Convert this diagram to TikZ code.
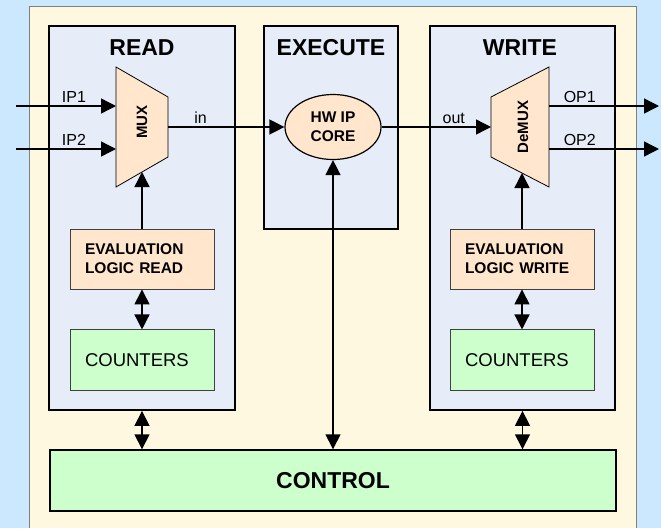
\documentclass[tikz,border=0pt]{standalone}
\usepackage{fontspec}
\setmainfont{Liberation Sans}
\usetikzlibrary{shapes.geometric, arrows.meta, positioning}
\definecolor{bgblue}{RGB}{204,232,255}
\definecolor{cream}{RGB}{255,248,225}
\definecolor{stagefill}{RGB}{230,237,248}
\definecolor{peach}{RGB}{255,230,204}
\definecolor{lightgreen}{RGB}{204,255,204}
\tikzstyle{stage} = [rectangle, draw=black, line width=1.8pt, fill=stagefill, inner sep=0pt]
\tikzstyle{title} = [font=\fontsize{23}{27}\selectfont\bfseries, inner sep=0pt]
\tikzstyle{evalbox} = [rectangle, draw=black!75, line width=0.9pt, fill=peach, minimum height=60pt, text width=114pt, inner xsep=15pt, inner ysep=0pt, align=left, font=\fontsize{15.5}{19}\selectfont\bfseries]
\tikzstyle{counterbox} = [rectangle, draw=black!75, line width=0.9pt, fill=lightgreen, minimum height=61pt, text width=114pt, inner xsep=15pt, inner ysep=0pt, align=left, font=\fontsize{18.5}{22}\selectfont]
\tikzstyle{muxshape} = [draw=black, line width=0.8pt, fill=peach]
\tikzstyle{muxlabel} = [rotate=90, inner sep=0pt, font=\fontsize{15}{18}\selectfont\bfseries]
\tikzstyle{core} = [ellipse, draw=black, line width=1.2pt, fill=peach, minimum width=96pt, minimum height=65pt, inner sep=0pt, align=center, font=\fontsize{15.5}{19}\selectfont\bfseries]
\tikzstyle{control} = [rectangle, draw=black, line width=1.4pt, fill=lightgreen, minimum width=566pt, minimum height=61pt, font=\fontsize{23}{27}\selectfont\bfseries]
\tikzstyle{sig} = [font=\fontsize{16}{19}\selectfont, inner sep=3pt]
\tikzstyle{arrow} = [line width=1.4pt, -{Triangle[length=15pt, width=15pt]}]
\tikzstyle{dblarrow} = [line width=1.4pt, {Triangle[length=15pt, width=15pt]}-{Triangle[length=15pt, width=15pt]}]

\begin{document}
\begin{tikzpicture}[x=1pt, y=-1pt]
      \useasboundingbox (0,0) rectangle (661,528);
      \fill [bgblue] (0,0) rectangle (661,528);
      \fill [cream] (29,6) rectangle (636,528);
      \draw [black!50, line width=0.8pt] (29,528) -- (29,6) -- (636,6) -- (636,528);

      \node (read)       [stage, minimum width=186pt, minimum height=384pt] at (142,218)   {};
      \node (execute)    [stage, minimum width=134pt, minimum height=203pt] at (331,127.5) {};
      \node (write)      [stage, minimum width=185pt, minimum height=384pt] at (522.5,218) {};

      \node (readtitle)  [title] at (142,48) {READ};
      \node (exectitle)  [title] at (331,48) {EXECUTE};
      \node (writetitle) [title] at (520,48) {WRITE};

      % multiplexer and demultiplexer
      \draw [muxshape] (116,67) -- (168,97) -- (168,157) -- (116,187) -- cycle;
      \node (mux)        [muxlabel] at (142,122) {MUX};
      \coordinate (muxin)    at (116,127);
      \coordinate (muxout)   at (168,127);
      \coordinate (muxsel)   at (142,172);

      \draw [muxshape] (491,97) -- (549,67) -- (549,187) -- (491,157) -- cycle;
      \node (demux)      [muxlabel] at (523,127) {DeMUX};
      \coordinate (demuxin)  at (491,127);
      \coordinate (demuxout) at (549,127);
      \coordinate (demuxsel) at (522,173);

      \node (hw)         [core] at (333,127) {HW IP\\CORE};

      \node (evalread)   [evalbox] at (142,259) {EVALUATION\\LOGIC READ};
      \node (cntread)    [counterbox, below=40pt of evalread] {COUNTERS};
      \node (evalwrite)  [evalbox] at (522,259) {EVALUATION\\LOGIC WRITE};
      \node (cntwrite)   [counterbox, below=40pt of evalwrite] {COUNTERS};

      \node (control)    [control] at (333,480.5) {CONTROL};

      \coordinate (ip1) at (16,106);
      \coordinate (ip2) at (16,149);
      \coordinate (op1) at (659,106);
      \coordinate (op2) at (659,149);

      \draw [arrow] (ip1) -- node[sig, pos=0.58, above] {IP1} (ip1 -| muxin);
      \draw [arrow] (ip2) -- node[sig, pos=0.58, above] {IP2} (ip2 -| muxin);
      \draw [arrow] (muxout) -- node[sig, pos=0.28, above] {in} (hw.west);
      \draw [arrow] (hw.east) -- node[sig, pos=0.66, above] {out} (demuxin);
      \draw [arrow] (op1 -| demuxout) -- node[sig, pos=0.28, above] {OP1} (op1);
      \draw [arrow] (op2 -| demuxout) -- node[sig, pos=0.28, above] {OP2} (op2);

      \draw [arrow] (evalread.north) -- (muxsel);
      \draw [arrow] (evalwrite.north) -- (demuxsel);

      \draw [dblarrow] (evalread) -- (cntread);
      \draw [dblarrow] (evalwrite) -- (cntwrite);
      \draw [dblarrow] (read.south) -- (read.south |- control.north);
      \draw [dblarrow] (write.south) -- (write.south |- control.north);
      \draw [dblarrow] (hw.south) -- (hw.south |- control.north);
    \end{tikzpicture}
\end{document}
